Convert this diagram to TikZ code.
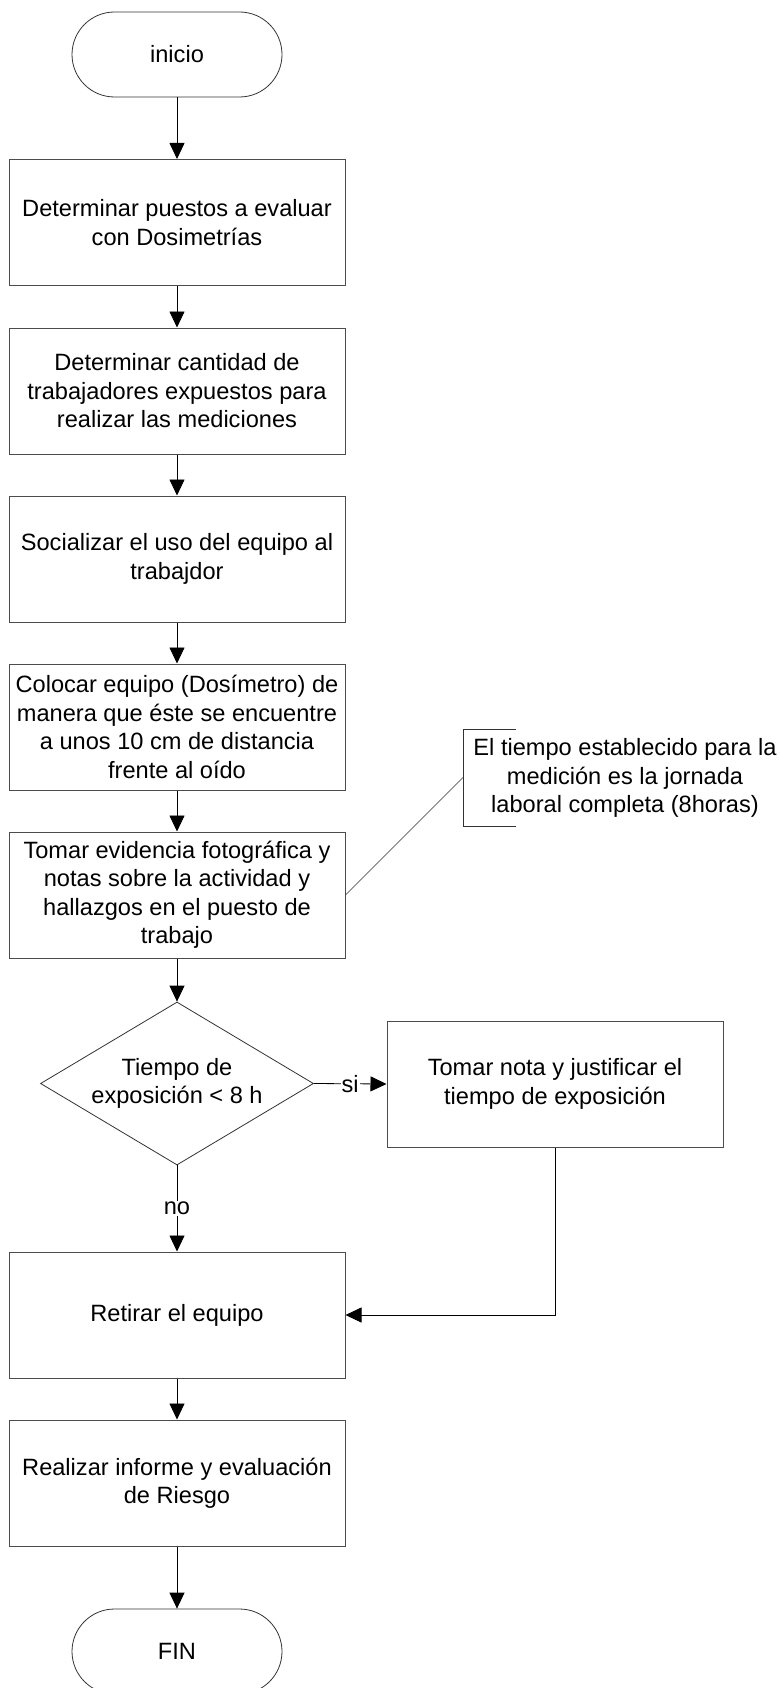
\documentclass[tikz,border=0pt]{standalone}
\usepackage{fontspec}
\setmainfont{Liberation Sans}
\usetikzlibrary{arrows.meta,shapes.geometric}
\begin{document}
\begin{tikzpicture}[x=1pt,y=-1pt,
  every node/.style={font=\fontsize{23.6}{28.5}\selectfont, align=center, text=black},
  procbox/.style={draw=black!70, line width=1pt, rectangle, minimum width=336pt,
    minimum height=126pt, inner sep=0pt},
  termbox/.style={draw=black!80, line width=0.8pt, rectangle, rounded corners=42.5pt,
    minimum width=210pt, minimum height=85pt, inner sep=0pt},
  decbox/.style={draw=black!80, line width=0.8pt, diamond, aspect=1.675,
    minimum width=273pt, minimum height=163pt, inner sep=0pt},
  flow/.style={draw=black, line width=0.8pt,
    -{Triangle[length=16pt,width=15pt]}},
  thinline/.style={draw=black!80, line width=0.8pt},
  lbl/.style={fill=white, inner sep=1pt}
]
\clip (0,0) rectangle (779,1688);
\fill[white] (0,0) rectangle (779,1688);

% main column
\node[termbox] (ini) at (177,54.5) {inicio};
\node[procbox] (b1) at (177,222.5) {Determinar puestos a evaluar\\con Dosimetrías};
\node[procbox] (b2) at (177,391) {Determinar cantidad de\\trabajadores expuestos para\\realizar las mediciones};
\node[procbox] (b3) at (177,559) {Socializar el uso del equipo al\\trabajdor};
\node[procbox] (b4) at (177,727) {Colocar equipo (Dosímetro) de\\manera que éste se encuentre\\a unos 10 cm de distancia\\frente al oído};
\node[procbox] (b5) at (177,895) {Tomar evidencia fotográfica y\\notas sobre la actividad y\\hallazgos en el puesto de\\trabajo};
\node[decbox] (dec) at (177,1083.5) {Tiempo de\\exposición < 8 h};
\node[procbox] (tn) at (555,1084) {Tomar nota y justificar el\\tiempo de exposición};
\node[procbox] (ret) at (177,1315) {Retirar el equipo};
\node[procbox] (inf) at (177,1483) {Realizar informe y evaluación\\de Riesgo};
\node[termbox] (fin) at (177,1651.5) {FIN};

% annotation
\node (note) at (625,778) {El tiempo establecido para la\\medición es la jornada\\laboral completa (8horas)};
\coordinate (brk) at (463,777.5);
\draw[thinline] (516,729) -- (463,729) -- (463,826) -- (516,826);
\draw[thinline, line width=0.6pt] (b5.east) -- (brk);

% connectors
\draw[flow] (ini) -- (b1);
\draw[flow] (b1) -- (b2);
\draw[flow] (b2) -- (b3);
\draw[flow] (b3) -- (b4);
\draw[flow] (b4) -- (b5);
\draw[flow] (b5) -- (dec);
\draw[flow] (dec.east) -- node[lbl]{si} (tn.west);
\draw[flow] (dec.south) -- node[lbl]{no} (ret.north);
\draw[flow] (tn.south) |- (ret.east);
\draw[flow] (ret) -- (inf);
\draw[flow] (inf) -- (fin);
\end{tikzpicture}
\end{document}
